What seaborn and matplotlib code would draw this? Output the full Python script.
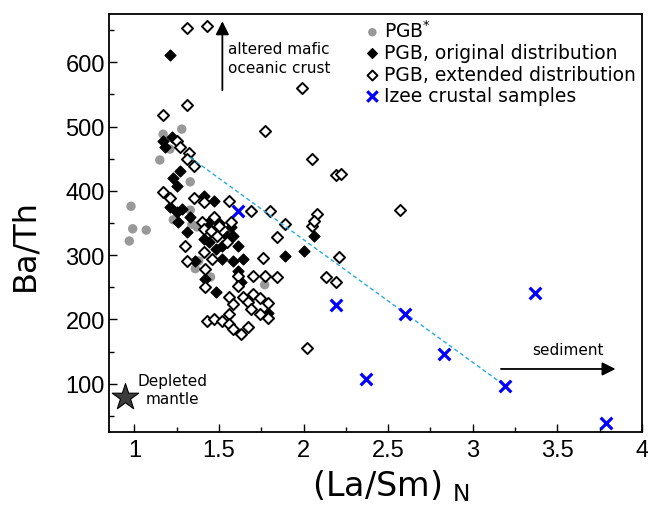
import matplotlib
matplotlib.use("Agg")
import matplotlib.pyplot as plt
import seaborn as sns
import pandas as pd
from matplotlib.ticker import MultipleLocator
from matplotlib import font_manager

# ---------------- data ----------------
pgb_star_x = [1.17, 1.28, 1.21, 1.15, 1.33, 0.98, 1.33, 0.99, 1.07, 0.97, 1.23, 1.34, 1.37, 1.38, 1.36, 1.45, 1.77]
pgb_star_y = [488, 496, 465, 448, 414, 376, 370, 341, 339, 322, 355, 348, 344, 291, 279, 266, 254]

pgb_orig_x = [1.21, 1.17, 1.18, 1.22, 1.27, 1.23, 1.25, 1.41, 1.47, 1.21, 1.25, 1.28, 1.26, 1.31, 1.44, 1.41, 1.44,
              1.48, 1.55, 1.52, 1.61, 1.52, 1.58, 1.64, 1.61, 1.48, 1.79, 1.89, 2.00, 2.06, 1.58, 1.36, 1.50, 1.57,
              1.42, 1.63, 1.33]
pgb_orig_y = [612, 477, 468, 484, 431, 420, 408, 392, 384, 375, 367, 372, 352, 336, 352, 325, 320,
              310, 330, 314, 314, 294, 291, 294, 275, 243, 210, 299, 307, 330, 330, 291, 350, 344,
              263, 258, 359]

pgb_ext_x = [1.31, 1.43, 1.99, 1.31, 1.17, 1.77, 2.05, 2.19, 2.22,
             1.25, 1.27, 1.32, 1.31, 1.35, 1.17, 1.21, 1.35, 1.41, 1.56, 1.69, 1.80, 1.89, 2.08, 2.05, 2.06,
             1.84, 1.76, 2.21, 2.13, 2.19, 2.02, 2.57,
             1.40, 1.47, 1.50, 1.57, 1.41, 1.45, 1.49, 1.55, 1.30, 1.31, 1.41, 1.46, 1.42, 1.61, 1.70, 1.77,
             1.84, 1.42, 1.61, 1.56, 1.64, 1.70, 1.74, 1.58, 1.67, 1.79, 1.56, 1.69, 1.74, 1.79, 1.43, 1.47,
             1.52, 1.56, 1.58, 1.63, 1.67]
pgb_ext_y = [653, 657, 560, 533, 518, 493, 449, 425, 426,
             477, 468, 459, 449, 439, 398, 389, 389, 383, 384, 369, 369, 348, 364, 345, 353,
             328, 296, 297, 266, 258, 156, 370,
             352, 359, 345, 352, 341, 338, 330, 320, 314, 291, 305, 294, 279, 268, 268, 268,
             266, 251, 252, 235, 235, 240, 234, 224, 227, 226, 209, 216, 209, 202, 198, 201,
             198, 193, 185, 178, 189]

izee_x = [1.61, 2.19, 2.37, 2.60, 2.83, 3.19, 3.37, 3.79]
izee_y = [369, 222, 107, 209, 146, 97, 241, 39]

mix_line_x = [1.33, 3.19]
mix_line_y = [452, 97]

mantle_x = [0.947]
mantle_y = [80]

labels = ["PGB$^{*}$", "PGB, original distribution", "PGB, extended distribution", "Izee crustal samples"]

# ---------------- figure ----------------
sns.set_style("white")
plt.rcParams['font.family'] = ['DejaVu Sans']
plt.rcParams['mathtext.default'] = 'regular'
plt.rcParams['text.color'] = 'black'
plt.rcParams['axes.labelcolor'] = 'black'
plt.rcParams['xtick.color'] = 'black'
plt.rcParams['ytick.color'] = 'black'

available = {f.name for f in font_manager.fontManager.ttflist}
tick_family = "Liberation Sans Narrow" if "Liberation Sans Narrow" in available else "Liberation Sans"
tick_size = 18.5 if tick_family == "Liberation Sans Narrow" else 17

fig = plt.figure(figsize=(6.48, 5.10), dpi=100)
ax = fig.add_axes([109 / 648, 1 - 433 / 510, (642 - 109) / 648, (433 - 15) / 510])

sns.scatterplot(x=pgb_star_x, y=pgb_star_y, ax=ax, color="#999999", marker="o", s=46,
                edgecolor="none", label=labels[0], zorder=2)
sns.scatterplot(x=pgb_orig_x, y=pgb_orig_y, ax=ax, color="black", marker="D", s=32,
                edgecolor="black", linewidth=0.8, label=labels[1], zorder=3)
sns.scatterplot(x=pgb_ext_x, y=pgb_ext_y, ax=ax, color="white", marker="D", s=32,
                edgecolor="black", linewidth=1.4, label=labels[2], zorder=4)
sns.lineplot(x=mix_line_x, y=mix_line_y, ax=ax, color="#29abe2", linewidth=1.0,
             linestyle=(0, (3, 2)), zorder=4.5, sort=False)
sns.scatterplot(x=izee_x, y=izee_y, ax=ax, color="#0000ff", marker="x", s=70,
                linewidth=2.3, label=labels[3], zorder=5)
sns.scatterplot(x=mantle_x, y=mantle_y, ax=ax, color="#3c3c3c", marker="*", s=400,
                edgecolor="black", linewidth=0.8, zorder=5)

# annotations
ax.annotate("", xy=(1.52, 668), xytext=(1.52, 552),
            arrowprops=dict(arrowstyle="-|>", color="black", lw=1.3, mutation_scale=20))
ax.text(1.555, 607, "altered mafic\noceanic crust", fontsize=11, ha="left", va="center",
        linespacing=1.35)
ax.annotate("", xy=(3.86, 123), xytext=(3.15, 123),
            arrowprops=dict(arrowstyle="-|>", color="black", lw=1.3, mutation_scale=20))
ax.text(3.56, 154, "sediment", fontsize=11, ha="center", va="center")
ax.text(1.224, 91, "Depleted\nmantle", fontsize=11, ha="center", va="center",
        multialignment="center", linespacing=1.3)

# axes
ax.set_xlim(0.85, 4.0)
ax.set_ylim(25, 675)
ax.xaxis.set_minor_locator(MultipleLocator(0.25))
ax.yaxis.set_minor_locator(MultipleLocator(50))
ax.set_xticks([1, 1.5, 2, 2.5, 3, 3.5, 4])
ax.set_xticklabels(["1", "1.5", "2", "2.5", "3", "3.5", "4"])
ax.set_yticks([100, 200, 300, 400, 500, 600])
ax.tick_params(which="both", direction="in", bottom=True, left=True, top=False, right=False,
               color="black", width=1.0)
ax.tick_params(which="major", length=5.5)
ax.tick_params(which="minor", length=3.5)
ax.tick_params(axis="x", pad=5)
ax.tick_params(axis="y", pad=3)
for lab in ax.get_xticklabels() + ax.get_yticklabels():
    lab.set_fontfamily([tick_family, "DejaVu Sans"])
    lab.set_fontsize(tick_size)
for sp in ax.spines.values():
    sp.set_color("black")
    sp.set_linewidth(1.3)

ax.set_xlabel("(La/Sm) $_{N}$", fontsize=24)
ax.xaxis.set_label_coords(0.53, -0.085)
ax.set_ylabel("Ba/Th", fontsize=23)
ax.yaxis.set_label_coords(-0.128, 0.45)

handles, labs = ax.get_legend_handles_labels()
order = [labs.index(l) for l in labels]
ax.legend([handles[i] for i in order], [labs[i] for i in order], loc="upper right",
          frameon=False, fontsize=13.5, handlelength=0.8, handletextpad=0.25,
          labelspacing=0.12, borderaxespad=0.1, borderpad=0.2, markerscale=0.9)

fig.savefig("out.png", dpi=100)
